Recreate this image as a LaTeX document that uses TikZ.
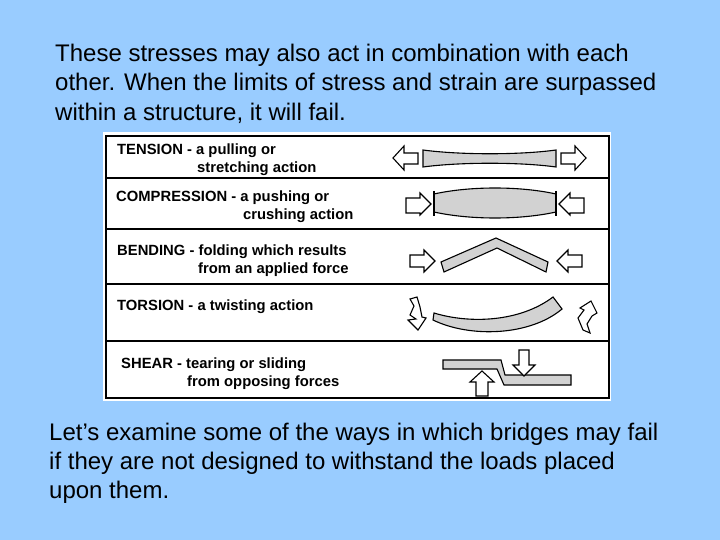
\documentclass[tikz,border=0pt]{standalone}
\usepackage{fontspec}
\setmainfont{Liberation Sans}
\begin{document}
\begin{tikzpicture}[x=1pt,y=-1pt,
  bodytxt/.style={anchor=west,font=\fontsize{24}{29}\selectfont,inner sep=0pt},
  lbl/.style={anchor=west,font=\fontsize{14.8}{18}\selectfont\bfseries,inner sep=0pt},
  part/.style={draw=black,line width=1.1pt,fill=gray!35},
  blk/.style={draw=black,line width=1.1pt,fill=white,line join=miter}]
\fill[fill={rgb,255:red,153;green,204;blue,255}] (0,0) rectangle (720,540);
\useasboundingbox (0,0) rectangle (720,540);
\node[bodytxt] (t1) at (55,55) {These stresses may also act in combination with each};
\node[bodytxt] (t2) at (55,84) {other. When the limits of stress and strain are surpassed};
\node[bodytxt] (t3) at (55,113) {within a structure, it will fail.};
\node[bodytxt] (b1) at (49,434) {Let’s examine some of the ways in which bridges may fail};
\node[bodytxt] (b2) at (49,463) {if they are not designed to withstand the loads placed};
\node[bodytxt] (b3) at (49,492) {upon them.};
\fill[white] (103,132) rectangle (611,401);
\draw[line width=1.3pt] (106,136) rectangle (609,398);
\foreach \yy in {178,229,284,341} \draw[line width=1.1pt] (106,\yy) -- (609,\yy);
% labels
\node[lbl] at (117,151) {TENSION - a pulling or};
\node[lbl] at (197,169) {stretching action};
\node[lbl] at (116,198) {COMPRESSION - a pushing or};
\node[lbl] at (243,216) {crushing action};
\node[lbl] at (117,252) {BENDING - folding which results};
\node[lbl] at (198,270) {from an applied force};
\node[lbl] at (117,307) {TORSION - a twisting action};
\node[lbl] at (121,365) {SHEAR - tearing or sliding};
\node[lbl] at (187,383) {from opposing forces};
% tension
\draw[part] (423,150) .. controls (460,155) and (520,155) .. (556,150) -- (556,167) .. controls (520,162) and (460,162) .. (423,167) -- cycle;
\draw[blk] (393,158) -- (404,146) -- (404,153) -- (418,153) -- (418,164) -- (404,164) -- (404,170) -- cycle;
\draw[blk] (586,158) -- (575,146) -- (575,153) -- (561,153) -- (561,164) -- (575,164) -- (575,170) -- cycle;
% compression
\draw[part] (434,194) .. controls (470,186) and (520,186) .. (556,194) -- (556,212) .. controls (520,220) and (470,220) .. (434,212) -- cycle;
\draw[line width=1.5pt] (434,191) -- (434,216) (556,191) -- (556,216);
\draw[blk] (431,204) -- (420,193) -- (420,198) -- (406,198) -- (406,213) -- (420,213) -- (420,215) -- cycle;
\draw[blk] (559,204) -- (570,193) -- (570,198) -- (584,198) -- (584,213) -- (570,213) -- (570,215) -- cycle;
% bending
\draw[part] (441,262) -- (496,238) -- (548,262) -- (546,272) -- (497,248) -- (444,272) -- cycle;
\draw[blk] (435,261) -- (424,250) -- (424,255) -- (410,255) -- (410,267) -- (424,267) -- (424,272) -- cycle;
\draw[blk] (557,261) -- (568,250) -- (568,255) -- (582,255) -- (582,267) -- (568,267) -- (568,272) -- cycle;
% torsion
\draw[part] (434,313) .. controls (470,324) and (520,322) .. (553,297) -- (562,309) .. controls (530,336) and (470,338) .. (433,320) -- cycle;
\draw[blk] (410,299) -- (414,306) -- (410,315) -- (416,319) -- (408,320) -- (418,330) -- (426,318) -- (422,317) -- (420,307) -- (417,297) -- cycle;
\draw[blk] (590,333) -- (587,324) -- (592,316) -- (597,313) -- (591,301) -- (580,308) -- (584,310) -- (578,318) -- (583,330) -- cycle;
% shear
\draw[part] (443,360) -- (501,360) -- (505,375) -- (571,375) -- (571,385) -- (504,385) -- (497,369) -- (443,369) -- cycle;
\draw[blk] (524,376) -- (513,365) -- (519,365) -- (519,350) -- (529,350) -- (529,365) -- (535,365) -- cycle;
\draw[blk] (482,371) -- (470,382) -- (476,382) -- (476,396) -- (488,396) -- (488,382) -- (494,382) -- cycle;
\end{tikzpicture}
\end{document}
